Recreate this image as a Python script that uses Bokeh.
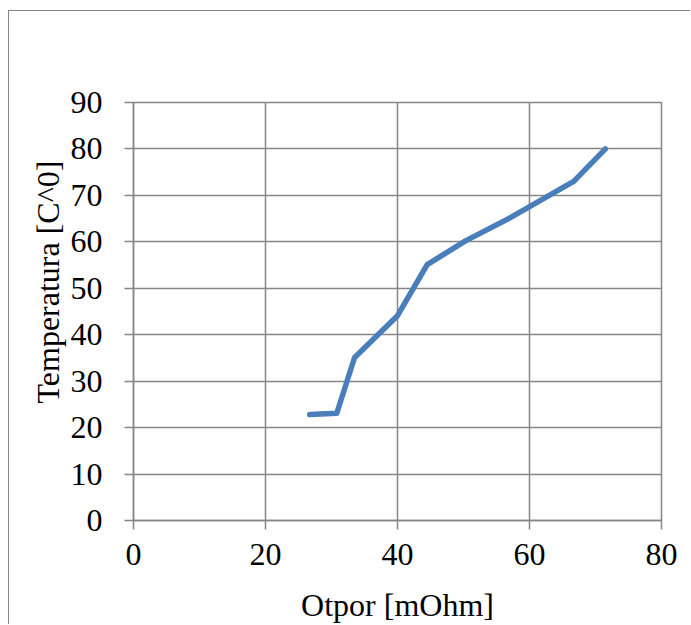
from bokeh.plotting import figure
from bokeh.models import Range1d, FixedTicker, Title
from bokeh.embed import file_html
from bokeh.resources import INLINE

# Data
resistance_mohm = [26.7, 30.8, 33.5, 40.0, 44.5, 50.3, 57.1, 66.7, 71.5]
temperature_c = [22.8, 23.1, 35.1, 44.1, 55.1, 60.2, 65.2, 73.0, 80.0]
x_ticks = [0, 20, 40, 60, 80]
y_ticks = [0, 10, 20, 30, 40, 50, 60, 70, 80, 90]

GREY = "#868686"
FONT = "Liberation Serif"

p = figure(
    width=682, height=614,
    x_range=Range1d(0, 80), y_range=Range1d(0, 90),
    output_backend="svg", toolbar_location=None,
    min_border_left=124, min_border_right=30,
    min_border_top=91, min_border_bottom=101,
)
p.styles = {"border-left": f"1px solid {GREY}", "border-top": f"1px solid {GREY}",
            "margin-top": "10px", "margin-left": "8px"}

p.background_fill_color = "white"
p.border_fill_color = "white"
p.outline_line_color = GREY
p.outline_line_width = 1.5

p.line(resistance_mohm, temperature_c, line_color="#4a7ebb", line_width=5.5,
       line_cap="round", line_join="round")

for ax in (p.xaxis[0], p.yaxis[0]):
    ax.axis_line_color = GREY
    ax.axis_line_width = 1.5
    ax.major_tick_line_color = GREY
    ax.major_tick_line_width = 1.5
    ax.major_tick_out = 9
    ax.major_tick_in = 0
    ax.minor_tick_line_color = None
    ax.major_label_text_font = FONT
    ax.major_label_text_font_size = "32px"
    ax.major_label_text_color = "black"

p.xaxis[0].ticker = FixedTicker(ticks=x_ticks)
p.yaxis[0].ticker = FixedTicker(ticks=y_ticks)
p.xaxis[0].major_label_standoff = 14
p.yaxis[0].major_label_standoff = 22

p.xaxis[0].axis_label = "Otpor [mOhm]"
p.xaxis[0].axis_label_text_font = FONT
p.xaxis[0].axis_label_text_font_size = "32px"
p.xaxis[0].axis_label_text_font_style = "normal"
p.xaxis[0].axis_label_text_color = "black"
p.xaxis[0].axis_label_standoff = 19

for g in (p.xgrid[0], p.ygrid[0]):
    g.grid_line_color = GREY
    g.grid_line_width = 1.5
p.xgrid[0].ticker = FixedTicker(ticks=x_ticks)
p.ygrid[0].ticker = FixedTicker(ticks=y_ticks)

# y-axis title placed as a left-side Title, shifted upward from the frame bottom
p.add_layout(Title(text="Temperatura [C^0]", align="left", offset=117,
                   text_font=FONT, text_font_size="32px", text_font_style="normal",
                   text_color="black", standoff=4), "left")

open("out.html", "w").write(file_html(p, INLINE))
